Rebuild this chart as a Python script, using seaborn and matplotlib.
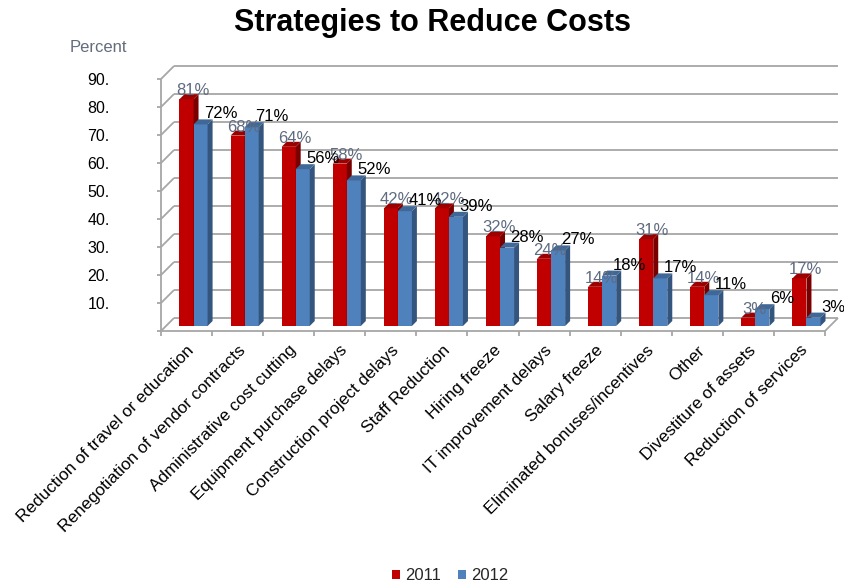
import numpy as np
import pandas as pd
import seaborn as sns
import matplotlib.pyplot as plt
from matplotlib.patches import Polygon, Patch
from matplotlib.transforms import ScaledTranslation

# ---- data ----
categories = [
    "Reduction of travel or education",
    "Renegotiation of vendor contracts",
    "Administrative cost cutting",
    "Equipment purchase delays",
    "Construction project delays",
    "Staff Reduction",
    "Hiring freeze",
    "IT improvement delays",
    "Salary freeze",
    "Eliminated bonuses/incentives",
    "Other",
    "Divestiture of assets",
    "Reduction of services",
]
values_2011 = [81, 68, 64, 58, 42, 42, 32, 24, 14, 31, 14, 3, 17]
values_2012 = [72, 71, 56, 52, 41, 39, 28, 27, 18, 17, 11, 6, 3]
years = ["2011", "2012"]
y_ticks = [10, 20, 30, 40, 50, 60, 70, 80, 90]
y_tick_labels = ["10.", "20.", "30.", "40.", "50.", "60.", "70.", "80.", "90."]

# ---- style ----
RED, RED_SIDE, RED_TOP = "#C00000", "#7A0000", "#9E0000"
BLUE, BLUE_SIDE, BLUE_TOP = "#4F81BD", "#34557E", "#3F6899"
GRID = "#A6A6A6"
LABEL_2011 = "#5F6B80"

sns.set_theme(style="white")
plt.rcParams["font.family"] = ["Liberation Sans", "DejaVu Sans"]

W, H = 845, 586
fig = plt.figure(figsize=(W / 100, H / 100), dpi=100)
ax_left, ax_bottom, ax_w, ax_h = 168, 326, 664, 252  # pixels
ax = fig.add_axes([ax_left / W, (H - ax_bottom) / H, ax_w / W, ax_h / H])

df = pd.DataFrame({
    "Strategy": categories * 2,
    "Year": [years[0]] * len(categories) + [years[1]] * len(categories),
    "Percent": values_2011 + values_2012,
})

sns.barplot(data=df, x="Strategy", y="Percent", hue="Year",
            palette=[RED, BLUE], width=0.55, saturation=1,
            errorbar=None, legend=False, linewidth=0, ax=ax)

ax.set_xlim(-0.5, len(categories) - 0.5)
ax.set_ylim(0, 90)
for s in ax.spines.values():
    s.set_visible(False)
ax.set_xlabel("")
ax.set_ylabel("")

# pixel -> data unit conversion
ux = ax_w / len(categories)
uy = ax_h / 90.0

# front and back planes of the pseudo-3D box (data-unit offsets)
fx, fy = -7 / ux, -5 / uy
bx, by = 6 / ux, 8 / uy
x0, x1 = -0.5, len(categories) - 0.5

line_kw = dict(color=GRID, lw=1.3, clip_on=False, solid_capstyle="butt")
for t in [0] + y_ticks:
    # back wall gridline
    ax.plot([x0 + bx, x1 + bx], [t + by, t + by], zorder=0.5, **line_kw)
    # side wall diagonal
    ax.plot([x0 + fx, x0 + bx], [t + fy, t + by], zorder=0.5, **line_kw)
    # small stub on the front axis
    ax.plot([x0 + fx - 4 / ux, x0 + fx], [t + fy, t + fy], zorder=0.5, **line_kw)
# front vertical axis
ax.plot([x0 + fx, x0 + fx], [fy, 90 + fy], zorder=0.5, **line_kw)
# front floor edge and right diagonal
ax.plot([x0 + fx, x1 + fx], [fy, fy], zorder=3, **line_kw)
ax.plot([x1 + fx, x1 + bx], [fy, by], zorder=3, **line_kw)
# category boundary ticks on the floor edge
for k in range(len(categories) + 1):
    xb = x0 + k + fx
    ax.plot([xb, xb], [fy, fy - 5 / uy], zorder=3, **line_kw)

# depth faces of the bars
dx, dy = 5 / ux, 5 / uy
face_cols = [(RED_SIDE, RED_TOP), (BLUE_SIDE, BLUE_TOP)]
for ci, cont in enumerate(ax.containers):
    side_c, top_c = face_cols[ci]
    for bar in cont:
        bxl = bar.get_x()
        bxr = bxl + bar.get_width()
        h = bar.get_height()
        bar.set_zorder(2 + ci * 0.2)
        side = Polygon([(bxr, 0), (bxr, h), (bxr + dx, h + dy), (bxr + dx, dy)],
                       closed=True, facecolor=side_c, edgecolor="none",
                       zorder=2.1 + ci * 0.2)
        top = Polygon([(bxl, h), (bxr, h), (bxr + dx, h + dy), (bxl + dx, h + dy)],
                      closed=True, facecolor=top_c, edgecolor="none",
                      zorder=2.1 + ci * 0.2)
        ax.add_patch(side)
        ax.add_patch(top)

# value labels
for i, v in enumerate(values_2011):
    ax.annotate(f"{v}%", xy=(i, v), xytext=(-1 / 1.389, 4 / 1.389),
                textcoords="offset points", ha="center", va="baseline",
                fontsize=12, color=LABEL_2011, zorder=5)
for i, v in enumerate(values_2012):
    ax.annotate(f"{v}%", xy=(i, v), xytext=(27 / 1.389, 6 / 1.389),
                textcoords="offset points", ha="center", va="baseline",
                fontsize=12, color="black", zorder=5)

# y tick labels on the front plane
ax.set_yticks(y_ticks, y_tick_labels)
ax.tick_params(axis="y", length=0, pad=42, labelsize=11.5, labelcolor="black")
shift_y = ScaledTranslation(0, -5 / 100, fig.dpi_scale_trans)
for lab in ax.get_yticklabels():
    lab.set_transform(lab.get_transform() + shift_y)

# x tick labels
ax.set_xticks(range(len(categories)), categories, rotation=45,
              ha="right", rotation_mode="anchor")
ax.tick_params(axis="x", length=0, pad=12, labelsize=12.3, labelcolor="black")
shift_x = ScaledTranslation(-7 / 100, 0, fig.dpi_scale_trans)
for lab in ax.get_xticklabels():
    lab.set_transform(lab.get_transform() + shift_x)

# title and axis caption
fig.text(433 / W, 1 - 23 / H, "Strategies to Reduce Costs", ha="center",
         va="center", fontsize=22, fontweight="bold", color="black")
fig.text(70 / W, 1 - 47 / H, "Percent", ha="left", va="center",
         fontsize=12, color="#646C7C")

# legend
handles = [Patch(facecolor=RED, edgecolor="none"),
           Patch(facecolor=BLUE, edgecolor="none")]
fig.legend(handles, years, loc="center", bbox_to_anchor=(450 / W, 1 - 576 / H),
           ncol=2, frameon=False, fontsize=12, handlelength=0.5,
           handleheight=0.5, handletextpad=0.3, columnspacing=1.0)

fig.savefig("out.png", dpi=100)
